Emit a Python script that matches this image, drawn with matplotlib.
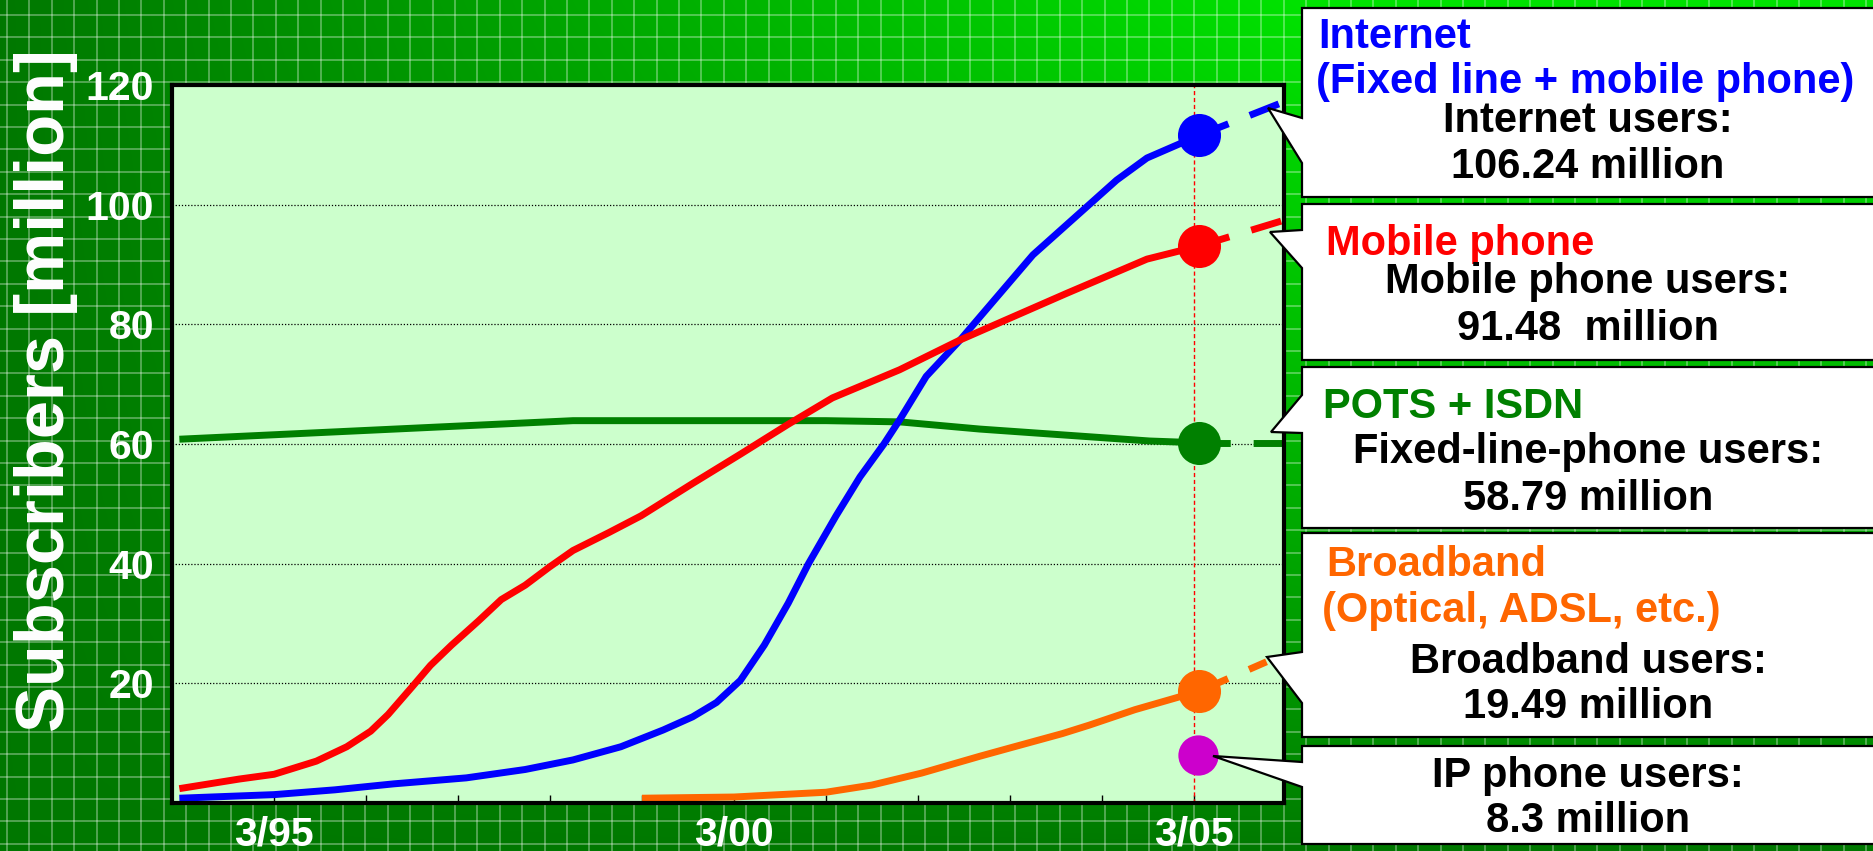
"""
Subscribers in Japan: Internet, mobile phone, POTS + ISDN, broadband, IP phone.
Recreated slide chart, saved as out.png.
"""

import matplotlib
matplotlib.use("Agg")
import numpy as np
import matplotlib.pyplot as plt
from matplotlib.patches import Polygon

W, H = 1873, 851
DPI = 100

# x = year (March), 1995.0 = 3/95
internet_x = [1993.97, 1995.0, 1995.66, 1996.30, 1997.09, 1997.73, 1998.25, 1998.77, 1999.23,
              1999.55, 1999.81, 2000.07, 2000.33, 2000.59, 2000.81, 2001.11, 2001.37, 2001.63,
              2001.80, 2002.09, 2002.46, 2003.25, 2004.16, 2004.49, 2005.06]
internet_y = [0.8, 1.4, 2.2, 3.2, 4.2, 5.6, 7.2, 9.4, 12.2,
              14.4, 16.8, 20.5, 26.4, 33.4, 40.0, 48.0, 54.5, 60.0,
              64.0, 71.3, 77.4, 91.6, 104.1, 107.8, 111.6]

mobile_x = [1993.97, 1994.62, 1995.0, 1995.46, 1995.79, 1996.05, 1996.24, 1996.50, 1996.70,
            1996.93, 1997.22, 1997.47, 1997.73, 1997.99, 1998.25, 1998.64, 1998.99, 1999.55,
            2000.07, 2000.59, 2001.07, 2001.80, 2002.46, 2003.62, 2004.49, 2005.06]
mobile_y = [2.4, 4.0, 4.8, 7.0, 9.4, 12.0, 14.8, 19.4, 23.0,
            26.4, 30.4, 34.0, 36.4, 39.4, 42.2, 45.2, 48.0, 53.4,
            58.3, 63.3, 67.7, 72.4, 77.4, 85.2, 90.9, 93.1]

pots_x = [1993.97, 1998.25, 2001.0, 2001.80, 2002.67, 2004.52, 2005.06]
pots_y = [60.8, 63.9, 63.9, 63.7, 62.5, 60.5, 60.2]

broadband_x = [1999.0, 2000.0, 2001.0, 2001.5, 2002.04, 2002.67, 2003.0, 2003.57, 2003.86,
               2004.36, 2005.06]
broadband_y = [0.8, 1.0, 1.8, 3.0, 5.0, 7.8, 9.2, 11.6, 13.0, 15.6, 18.7]

ip_phone_x = [2005.04]
ip_phone_y = [8.0]

# dashed continuation after 3/05
internet_ext_x = [2005.06, 2005.95]
internet_ext_y = [111.6, 117.0]
mobile_ext_x = [2005.06, 2005.98]
mobile_ext_y = [93.1, 97.4]
pots_ext_x = [2005.06, 2005.98]
pots_ext_y = [60.2, 60.2]
broadband_ext_x = [2005.06, 2005.79]
broadband_ext_y = [18.7, 23.6]

year_ticks = [1995, 2000, 2005]
year_labels = ["3/95", "3/00", "3/05"]
minor_years = [1994, 1996, 1997, 1998, 1999, 2001, 2002, 2003, 2004]
y_ticks = [20, 40, 60, 80, 100, 120]

BLUE = "#0000ff"
RED = "#ff0000"
GREEN = "#008000"
ORANGE = "#ff6600"
PURPLE = "#cc00cc"

plt.rcParams["font.family"] = ["Liberation Sans", "DejaVu Sans"]
plt.rcParams["font.weight"] = "bold"


def draw_background(fig):
    bg = fig.add_axes([0, 0, 1, 1])
    bg.set_zorder(0)
    bg.set_xlim(0, W)
    bg.set_ylim(H, 0)
    bg.axis("off")

    # green slide background, brightest at the top right
    yy, xx = np.mgrid[0:H:3, 0:W:3]
    fx = np.clip(xx / 1300.0, 0, 1)
    hy = np.clip(1 - yy / 851.0, 0, 1) ** 0.8
    g = 0.47 + 0.42 * fx * hy
    img = np.dstack([np.zeros_like(g), g, np.zeros_like(g)])
    bg.imshow(img, extent=[0, W, H, 0], aspect="auto", interpolation="bilinear")

    for x in np.arange(7, W, 22.4):
        bg.axvline(x, color="white", alpha=0.32, lw=1.4)
    for y in np.arange(15, H, 22.4):
        bg.axhline(y, color="white", alpha=0.32, lw=1.4)
    return bg


def draw_chart(fig):
    ax = fig.add_axes([172 / W, 1 - 803 / H, (1284 - 172) / W, (803 - 85) / H])
    ax.set_zorder(1)
    ax.set_facecolor("#ccffcc")
    for s in ax.spines.values():
        s.set_linewidth(3)
        s.set_color("black")

    ax.set_xlim(1993.89, 2005.98)
    ax.set_ylim(0, 120)
    ax.set_xticks(year_ticks)
    ax.set_xticklabels(year_labels)
    ax.set_xticks(minor_years, minor=True)
    ax.set_yticks(y_ticks)
    ax.tick_params(axis="x", which="both", direction="in", length=6, width=1,
                   colors="black", labelcolor="white", labelsize=29.5, pad=9)
    ax.tick_params(axis="y", length=0, labelcolor="white", labelsize=29.5, pad=13)
    for lab in ax.get_xticklabels() + ax.get_yticklabels():
        lab.set_fontweight("bold")

    ax.set_axisbelow(True)
    ax.yaxis.grid(True, linestyle=(0, (1, 1.5)), color="black", lw=0.9)
    ax.axvline(year_ticks[-1], color="red", lw=1, linestyle=(0, (3, 2)), zorder=1.5)

    lw = 5.0
    dash = (0, (4.5, 3.3))
    series = [
        (pots_x, pots_y, pots_ext_x, pots_ext_y, GREEN),
        (broadband_x, broadband_y, broadband_ext_x, broadband_ext_y, ORANGE),
        (internet_x, internet_y, internet_ext_x, internet_ext_y, BLUE),
        (mobile_x, mobile_y, mobile_ext_x, mobile_ext_y, RED),
    ]
    for x, y, ex, ey, c in series:
        ax.plot(x, y, color=c, lw=lw, solid_capstyle="butt", solid_joinstyle="round", zorder=2)
        ax.plot(ex, ey, color=c, lw=lw, linestyle=dash, dash_capstyle="butt", zorder=2)
        ax.plot([x[-1]], [y[-1]], "o", ms=31, color=c, mec="none", zorder=3)
    ax.plot(ip_phone_x, ip_phone_y, "o", ms=29, color=PURPLE, mec="none", zorder=3)
    return ax


def callout(ov, top, bottom, base_hi, base_lo, tip, x0=1302, x1=W + 20):
    pts = [(x0, top), (x1, top), (x1, bottom), (x0, bottom),
           (x0, base_lo), tip, (x0, base_hi)]
    ov.add_patch(Polygon(pts, closed=True, facecolor="white", edgecolor="black",
                         lw=1.6, joinstyle="miter", zorder=5))


def draw_callouts(fig):
    ov = fig.add_axes([0, 0, 1, 1])
    ov.set_zorder(2)
    ov.set_xlim(0, W)
    ov.set_ylim(H, 0)
    ov.axis("off")
    ov.patch.set_visible(False)

    callout(ov, 8, 197, 118, 163, (1268, 108))
    callout(ov, 204, 360, 230, 268, (1270, 232))
    callout(ov, 367, 528, 395, 433, (1271, 432))
    callout(ov, 533, 737, 652, 703, (1267, 657))
    callout(ov, 746, 844, 762, 787, (1213, 756))

    fs = 30
    cx = 1588
    heads = [
        (1318, 48, "Internet", BLUE),
        (1316, 93, "(Fixed line + mobile phone)", BLUE),
        (1326, 255, "Mobile phone", RED),
        (1323, 418, "POTS + ISDN", GREEN),
        (1326, 576, "Broadband", ORANGE),
        (1322, 622, "(Optical, ADSL, etc.)", ORANGE),
    ]
    for x, y, t, c in heads:
        ov.text(x, y, t, color=c, fontsize=fs, fontweight="bold",
                ha="left", va="baseline", zorder=6)

    body = [
        (132, "Internet users:"), (178, "106.24 million"),
        (293, "Mobile phone users:"), (340, "91.48  million"),
        (463, "Fixed-line-phone users:"), (510, "58.79 million"),
        (673, "Broadband users:"), (718, "19.49 million"),
        (787, "IP phone users:"), (832, "8.3 million"),
    ]
    for y, t in body:
        ov.text(cx, y, t, color="black", fontsize=fs, fontweight="bold",
                ha="center", va="baseline", zorder=6)

    ov.text(14, 391, "Subscribers [million]", color="white", fontsize=49.5,
            fontweight="bold", rotation=90, ha="left", va="center", zorder=6)
    return ov


def main():
    fig = plt.figure(figsize=(W / DPI, H / DPI), dpi=DPI)
    draw_background(fig)
    draw_chart(fig)
    draw_callouts(fig)
    fig.savefig("out.png", dpi=DPI)
    plt.close(fig)
    print("Saved: out.png")


if __name__ == "__main__":
    main()
